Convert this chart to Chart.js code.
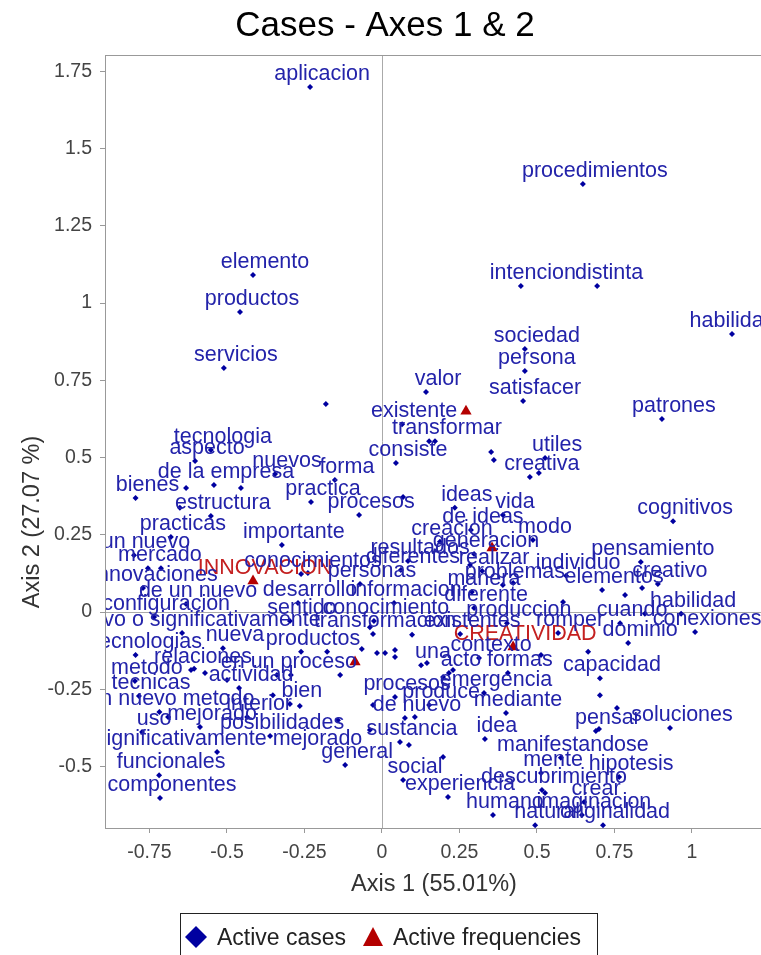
<!DOCTYPE html>
<html>
<head>
<meta charset="utf-8">
<script src="https://cdn.jsdelivr.net/npm/chart.js@4.4.1/dist/chart.umd.min.js"></script>
<style>
  html, body { margin: 0; padding: 0; background: #fff; }
  canvas { display: block; }
</style>
</head>
<body>
<canvas id="chart" width="761" height="955"></canvas>
<script>
// Axis 1 / Axis 2 coordinates of the active cases (words)
const caseLabels = [
    'aplicacion', 'procedimientos', 'elemento', 'productos', 'servicios', 'intencion', 'distinta', 'habilidades',
    'sociedad', 'persona', 'satisfacer', 'valor', 'existente', 'transformar', 'consiste', 'utiles', 'creativa',
    'patrones', 'tecnologia', 'aspecto', 'nuevos', 'de la empresa', 'bienes', 'forma', 'practica', 'procesos',
    'estructura', 'practicas', 'importante', 'un nuevo', 'ideas', 'vida', 'de ideas', 'modo', 'creacion',
    'cognitivos', 'resultados', 'generacion', 'mercado', 'conocimientos', 'diferentes', 'realizar', 'pensamiento',
    'individuo', 'personas', 'problemas', 'elementos', 'creativo', 'innovaciones', 'manera', 'de un nuevo',
    'desarrollo', 'informacion', 'diferente', 'habilidad', 'configuracion', 'sentido', 'conocimiento', 'produccion',
    'cuando', 'conexiones', 'nuevo o significativamente', 'transformacion', 'existentes', 'romper', 'dominio',
    'nueva', 'productos', 'tecnologias', 'contexto', 'una', 'relaciones', 'acto', 'formas', 'en un proceso',
    'capacidad', 'metodo', 'actividad', 'emergencia', 'tecnicas', 'procesos', 'bien', 'produce', 'un nuevo metodo',
    'mediante', 'interior', 'de nuevo', 'mejorado', 'pensar', 'soluciones', 'uso', 'posibilidades', 'idea',
    'sustancia', 'significativamente mejorado', 'manifestandose', 'general', 'mente', 'funcionales', 'hipotesis',
    'social', 'descubrimiento', 'experiencia', 'componentes', 'crear', 'humano', 'imaginacion', 'natural', 'originalidad'
];
const caseX = [
    -0.232, 0.648, -0.416, -0.458, -0.510, 0.448, 0.694, 1.129,
    0.461, 0.461, 0.455, 0.142, 0.065, 0.171, 0.045, 0.526, 0.477,
    0.903, -0.552, -0.603, -0.345, -0.542, -0.795, -0.152, -0.229, -0.074,
    -0.552, -0.681, -0.323, -0.800, 0.235, 0.390, 0.287, 0.487, 0.187,
    0.939, 0.084, 0.297, -0.755, -0.261, 0.061, 0.323, 0.835,
    0.594, -0.071, 0.390, 0.710, 0.890, -0.771, 0.290, -0.632,
    -0.271, 0.039, 0.297, 0.965, -0.735, -0.297, -0.026, 0.403,
    0.768, 1.010, -0.645, -0.029, 0.252, 0.568, 0.794,
    -0.513, -0.261, -0.795, 0.313, 0.126, -0.616, 0.216, 0.406, -0.339,
    0.703, -0.797, -0.461, 0.329, -0.784, 0.042, -0.297, 0.152, -0.718,
    0.400, -0.435, 0.074, -0.587, 0.690, 0.929, -0.774, -0.361, 0.332,
    0.058, -0.532, 0.577, -0.119, 0.513, -0.719, 0.765,
    0.068, 0.516, 0.213, -0.716, 0.652, 0.358, 0.645, 0.494, 0.713
];
const caseY = [
    1.699, 1.385, 1.091, 0.971, 0.790, 1.055, 1.055, 0.900,
    0.851, 0.780, 0.683, 0.712, 0.608, 0.553, 0.482, 0.498, 0.437,
    0.625, 0.524, 0.489, 0.447, 0.411, 0.369, 0.427, 0.356, 0.314,
    0.311, 0.243, 0.217, 0.184, 0.337, 0.314, 0.265, 0.233, 0.227,
    0.294, 0.165, 0.188, 0.142, 0.123, 0.136, 0.133, 0.162,
    0.117, 0.091, 0.087, 0.071, 0.091, 0.078, 0.065, 0.026,
    0.029, 0.029, 0.013, -0.006, -0.016, -0.029, -0.029, -0.036,
    -0.036, -0.065, -0.068, -0.071, -0.071, -0.068, -0.100,
    -0.117, -0.129, -0.139, -0.149, -0.172, -0.188, -0.197, -0.197, -0.204,
    -0.214, -0.223, -0.246, -0.262, -0.272, -0.275, -0.298, -0.301, -0.324,
    -0.327, -0.340, -0.343, -0.372, -0.385, -0.375, -0.388, -0.401, -0.411,
    -0.421, -0.453, -0.472, -0.495, -0.521, -0.528, -0.534,
    -0.544, -0.576, -0.599, -0.602, -0.615, -0.657, -0.657, -0.690, -0.690
];

// active cases whose labels are hidden under other labels
const hiddenX = [
    -0.181, -0.632, -0.455, -0.652, -0.713, -0.239, 0.506, 0.352, 0.361, 0.068,
    -0.177, -0.065, -0.016, 0.010, 0.042, 0.042, 0.097, 0.145, -0.135, -0.039,
    0.584, 0.784, 0.839, 0.848, 0.513, 0.665, 0.703, 0.229, 0.197, 0.758,
    0.700, 0.197, 0.526, -0.606, -0.571, -0.500, -0.294, -0.352, -0.265, -0.142,
    -0.029, -0.039, 0.087, 0.106, -0.690, 0.423, 0.284, 0.152
];
const hiddenY = [
    0.673, 0.401, 0.401, 0.337, 0.142, 0.126, 0.450, 0.518, 0.492, 0.372,
    -0.129, -0.120, -0.133, -0.133, -0.123, -0.146, -0.074, -0.165, -0.204, -0.049,
    0.032, 0.055, 0.078, -0.006, -0.139, -0.129, -0.269, -0.188, -0.210, -0.311,
    -0.379, -0.469, -0.586, -0.184, -0.197, -0.220, -0.204, -0.269, -0.304, -0.350,
    -0.301, -0.382, -0.430, -0.340, -0.340, 0.094, 0.152, 0.553
];

// active frequencies
const freqLabels = ['INNOVACION', 'CREATIVIDAD', '', '', ''];
const freqX = [-0.416, 0.423, 0.271, 0.355, -0.087];
const freqY = [0.100, -0.113, 0.650, 0.207, -0.162];

const xTicks = [-0.75, -0.5, -0.25, 0, 0.25, 0.5, 0.75, 1];
const yTicks = [-0.5, -0.25, 0, 0.25, 0.5, 0.75, 1, 1.25, 1.5, 1.75];

const FONT = '"Liberation Sans", Arial, sans-serif';
const BLUE = '#0000a0';
const RED = '#b40000';

const allCaseLabels = caseLabels.concat(hiddenX.map(() => ''));
const casePoints = caseX.map((x, i) => ({ x: x, y: caseY[i] }))
    .concat(hiddenX.map((x, i) => ({ x: x, y: hiddenY[i] })));
const freqPoints = freqX.map((x, i) => ({ x: x, y: freqY[i] }));

const decorPlugin = {
    id: 'decor',
    beforeDatasetsDraw(chart) {
        const { ctx, chartArea: a, scales } = chart;
        const x0 = Math.round(scales.x.getPixelForValue(0)) + 0.5;
        const y0 = Math.round(scales.y.getPixelForValue(0)) + 0.5;
        ctx.save();
        ctx.lineWidth = 1;
        ctx.strokeStyle = '#aaaaaa';
        ctx.beginPath();
        ctx.moveTo(x0, a.top);
        ctx.lineTo(x0, a.bottom);
        ctx.moveTo(a.left, y0);
        ctx.lineTo(a.right, y0);
        ctx.stroke();
        ctx.strokeStyle = '#999999';
        ctx.strokeRect(a.left + 0.5, a.top + 0.5, a.right - a.left + 4, a.bottom - a.top);
        ctx.restore();
    },
    afterDatasetsDraw(chart) {
        const { ctx, chartArea: a } = chart;
        ctx.save();
        ctx.beginPath();
        ctx.rect(a.left + 1, a.top + 1, a.right - a.left, a.bottom - a.top - 1);
        ctx.clip();
        ctx.font = '21.5px ' + FONT;
        ctx.textAlign = 'center';
        ctx.textBaseline = 'alphabetic';
        [[1, freqLabels, '#c42020'], [0, allCaseLabels, '#2323aa']].forEach(([di, labels, color]) => {
            ctx.fillStyle = color;
            chart.getDatasetMeta(di).data.forEach((pt, i) => {
                if (labels[i]) ctx.fillText(labels[i], pt.x + 12, pt.y - 7);
            });
        });
        ctx.restore();
    },
    afterDraw(chart) {
        const { ctx } = chart;
        ctx.save();
        // title
        ctx.fillStyle = '#000';
        ctx.font = '35px ' + FONT;
        ctx.textAlign = 'center';
        ctx.textBaseline = 'alphabetic';
        ctx.fillText('Cases - Axes 1 & 2', 385, 36);
        // axis titles
        ctx.fillStyle = '#333';
        ctx.font = '23.5px ' + FONT;
        ctx.fillText('Axis 1 (55.01%)', 434, 891);
        ctx.save();
        ctx.translate(39, 522);
        ctx.rotate(-Math.PI / 2);
        ctx.fillText('Axis 2 (27.07 %)', 0, 0);
        ctx.restore();
        // legend
        ctx.strokeStyle = '#222';
        ctx.lineWidth = 1;
        ctx.strokeRect(180.5, 913.5, 417, 60);
        ctx.font = '23px ' + FONT;
        ctx.textAlign = 'left';
        ctx.fillStyle = BLUE;
        ctx.beginPath();
        ctx.moveTo(196, 926); ctx.lineTo(207, 937); ctx.lineTo(196, 948); ctx.lineTo(185, 937);
        ctx.closePath();
        ctx.fill();
        ctx.fillStyle = '#222';
        ctx.fillText(chart.data.datasets[0].label, 217, 945);
        ctx.fillStyle = RED;
        ctx.beginPath();
        ctx.moveTo(373, 927); ctx.lineTo(383, 946); ctx.lineTo(363, 946);
        ctx.closePath();
        ctx.fill();
        ctx.fillStyle = '#222';
        ctx.fillText(chart.data.datasets[1].label, 393, 945);
        ctx.restore();
    }
};

new Chart(document.getElementById('chart'), {
    type: 'scatter',
    data: {
        datasets: [{
            label: 'Active cases',
            data: casePoints,
            pointStyle: 'rectRot',
            pointRadius: 3,
            pointHoverRadius: 3,
            backgroundColor: BLUE,
            borderColor: BLUE,
            borderWidth: 0
        }, {
            label: 'Active frequencies',
            data: freqPoints,
            pointStyle: 'triangle',
            pointRadius: 6.5,
            pointHoverRadius: 6.5,
            backgroundColor: RED,
            borderColor: RED,
            borderWidth: 0
        }]
    },
    options: {
        responsive: false,
        animation: false,
        events: [],
        layout: { autoPadding: false, padding: { top: 55, left: 0, right: 0, bottom: 0 } },
        plugins: {
            legend: { display: false },
            title: { display: false },
            tooltip: { enabled: false }
        },
        scales: {
            x: {
                type: 'linear',
                min: -0.8935,
                max: 1.2226,
                afterBuildTicks: s => { s.ticks = xTicks.map(v => ({ value: v })); },
                afterFit: s => { s.height = 127; },
                border: { display: false },
                grid: { drawOnChartArea: false, tickLength: 5, color: '#999' },
                ticks: { color: '#444', padding: 8, font: { family: FONT, size: 19.5 }, callback: v => String(v) }
            },
            y: {
                type: 'linear',
                min: -0.699,
                max: 1.8026,
                afterBuildTicks: s => { s.ticks = yTicks.map(v => ({ value: v })); },
                afterFit: s => { s.width = 105; },
                border: { display: false },
                grid: { drawOnChartArea: false, tickLength: 5, color: '#999' },
                ticks: { color: '#444', padding: 8, font: { family: FONT, size: 19.5 }, callback: v => String(v) }
            }
        }
    },
    plugins: [decorPlugin]
});
</script>
</body>
</html>
